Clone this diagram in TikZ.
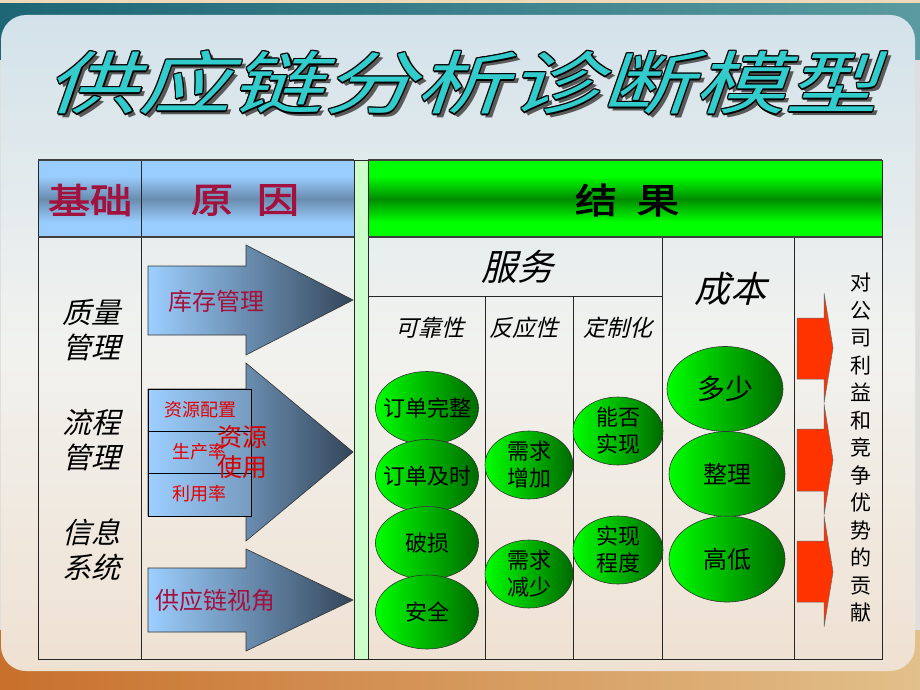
\documentclass[tikz,border=0pt]{standalone}
\usepackage{fontspec}
\newfontfamily\cjk{Noto Sans CJK SC}
\newfontfamily\cjkit[FakeSlant=0.25]{Noto Sans CJK SC}
\newfontfamily\cjkhead[FakeBold=2.5,FakeStretch=1.2]{Noto Sans CJK SC}
\newfontfamily\titlefont[FakeSlant=0.35,FakeStretch=1.36]{Noto Sans CJK SC}
\usetikzlibrary{shapes.geometric}

\definecolor{tealdark}{HTML}{1C6676}
\definecolor{teallight}{HTML}{5A9AA0}
\definecolor{orangedark}{HTML}{C8702C}
\definecolor{orangelight}{HTML}{E2C08A}
\definecolor{paneltop}{HTML}{D3E2EA}
\definecolor{panelmid}{HTML}{F1F2EF}
\definecolor{panelbottom}{HTML}{EFE1D2}
\definecolor{hdrblue}{HTML}{99CCFF}
\definecolor{hdrbluedark}{HTML}{6A8CAE}
\definecolor{hdrgreen}{HTML}{00FF00}
\definecolor{hdrgreendark}{HTML}{008C00}
\definecolor{stripgreen}{HTML}{CCFFCC}
\definecolor{arrowlight}{HTML}{9DCFFF}
\definecolor{arrowdark}{HTML}{33465A}
\definecolor{bubblelight}{HTML}{00FF00}
\definecolor{bubbledark}{HTML}{006A00}
\definecolor{chevronred}{HTML}{FF3300}
\definecolor{crimson}{HTML}{A3123F}
\definecolor{titleteal}{HTML}{33CCCC}

\tikzset{
  tableline/.style={draw=black!85, line width=1pt},
  headline/.style={draw=black!75, line width=1.8pt},
  bigarrow/.style={left color=arrowlight, right color=arrowdark, draw=black!80, line width=0.6pt},
  chevron/.style={fill=chevronred, draw=black!60, line width=0.5pt},
  bubble/.style={ellipse, draw=black!80, line width=0.6pt, left color=bubblelight,
    right color=bubbledark, inner xsep=-30pt, inner ysep=-20pt, align=center,
    font=\cjk\fontsize{22}{27}\selectfont},
  basetext/.style={align=center, font=\cjkit\fontsize{29}{35}\selectfont},
  subhead/.style={font=\cjkit\fontsize{23}{28}\selectfont},
  headtext/.style={font=\cjkhead\fontsize{35}{40}\selectfont},
  causetext/.style={text=crimson, font=\cjk\fontsize{24}{28}\selectfont},
  smallred/.style={text=red!90!black, font=\cjk\fontsize{18}{22}\selectfont},
  titletext/.style={font=\titlefont\fontsize{68}{72}\selectfont}
}

\begin{document}
\begin{tikzpicture}[x=1pt, y=-1pt]
    \useasboundingbox (0,0) rectangle (920,690);

    % Background: bars and panel
    \fill[panelmid!92!black] (0,0) rectangle (920,690);
    \shade[left color=tealdark, right color=teallight] (0,0) rectangle (920,60);
    \fill[orangelight!60!white] (0,0) rectangle (920,3);
    \shade[left color=orangedark, right color=orangelight] (0,630) rectangle (920,690);
    \shade[top color=paneltop, bottom color=panelbottom, middle color=panelmid,
      rounded corners=25] (1,15) rectangle (915,671);

    % Title with outline and shadow
    \node[titletext, text=black!65] (titleshadow) at (466,87) {供应链分析诊断模型};
    \foreach \dx/\dy [count=\i] in {-1.2/0,1.2/0,0/-1.2,0/1.2,-0.9/-0.9,0.9/-0.9,-0.9/0.9,0.9/0.9}
      \node[titletext, text=black] (titleedge\i) at (462+\dx,83+\dy) {供应链分析诊断模型};
    \node[titletext, text=titleteal] (title) at (462,83) {供应链分析诊断模型};

    % Header row
    \fill[hdrblue] (38,160) rectangle (354,237);
    \shade[top color=hdrblue, bottom color=hdrblue, middle color=hdrbluedark] (38,176) rectangle (354,222);
    \fill[hdrgreen] (368,160) rectangle (882,237);
    \shade[top color=hdrgreen, bottom color=hdrgreen, middle color=hdrgreendark] (368,176) rectangle (882,222);
    \fill[stripgreen] (354,160) rectangle (368,659);
    \node[headtext, text=crimson] (jichu) at (90,200) {基础};
    \node[headtext, text=crimson] (yuanyin) at (245,200) {原\hspace{24pt}因};
    \node[headtext, text=black] (jieguo) at (627,200) {结\hspace{20pt}果};

    % Table grid
    \draw[tableline] (38,160) rectangle (882,659);
    \draw[tableline] (141,160) -- (141,659);
    \draw[tableline] (354,160) -- (354,659);
    \draw[tableline] (368,160) -- (368,659);
    \draw[tableline] (662,237) -- (662,659);
    \draw[tableline] (794,237) -- (794,659);
    \draw[tableline] (368,296) -- (662,296);
    \draw[tableline] (485,296) -- (485,659);
    \draw[tableline] (573,296) -- (573,659);
    \draw[headline] (38,237) -- (354,237);
    \draw[headline] (368,237) -- (882,237);
    \draw[headline] (38,160) -- (354,160);
    \draw[headline] (368,160) -- (882,160);

    % Column 1: foundations
    \node[basetext] (zhiliang) at (91,330) {质量\\管理};
    \node[basetext] (liucheng) at (91,440) {流程\\管理};
    \node[basetext] (xinxi) at (91,550) {信息\\系统};

    % Column 2: causes
    \shade[bigarrow] (148,266) -- (246,266) -- (246,245) -- (353,300) -- (246,355) -- (246,335) -- (148,335) -- cycle;
    \node[causetext] (kucun) at (216,301) {库存管理};

    \shade[bigarrow] (148,389) -- (246,389) -- (246,363) -- (353,452) -- (246,541) -- (246,516) -- (148,516) -- cycle;
    \shade[left color=arrowlight, right color=arrowlight!75!black, draw=black] (148,389) rectangle (251,516);
    \draw[black] (148,431) -- (251,431);
    \draw[black] (148,473) -- (251,473);
    \node[smallred] (peizhi) at (200,410) {资源配置};
    \node[smallred] (shengchan) at (199,452) {生产率};
    \node[smallred] (liyong) at (199,494) {利用率};
    \node[causetext, text=red!85!black, align=center, font=\cjk\fontsize{25}{30}\selectfont]
      (ziyuan) at (242,452) {资源\\使用};

    \shade[bigarrow] (148,568) -- (246,568) -- (246,549) -- (353,600) -- (246,651) -- (246,632) -- (148,632) -- cycle;
    \node[causetext] (shiyejiao) at (215,600) {供应链视角};

    % Results: service
    \node[font=\cjkit\fontsize{36}{40}\selectfont] (fuwu) at (517,267) {服务};
    \node[subhead] (kekao) at (430,328) {可靠性};
    \node[subhead] (fanying) at (524,328) {反应性};
    \node[subhead] (dingzhi) at (618,328) {定制化};

    \node[bubble, minimum width=103, minimum height=73] (wanzheng) at (427,408) {订单完整};
    \node[bubble, minimum width=103, minimum height=73] (jishi) at (427,476) {订单及时};
    \node[bubble, minimum width=103, minimum height=73] (posun) at (427,543) {破损};
    \node[bubble, minimum width=103, minimum height=74] (anquan) at (427,612) {安全};

    \node[bubble, minimum width=88, minimum height=68] (zengjia) at (529,465) {需求\\增加};
    \node[bubble, minimum width=88, minimum height=68] (jianshao) at (529,574) {需求\\减少};

    \node[bubble, minimum width=90, minimum height=68] (nengfou) at (618,431) {能否\\实现};
    \node[bubble, minimum width=90, minimum height=68] (chengdu) at (618,550) {实现\\程度};

    % Results: cost
    \node[font=\cjkit\fontsize{36}{40}\selectfont] (chengben) at (730,289) {成本};
    \node[bubble, minimum width=116, minimum height=85, font=\cjk\fontsize{28}{32}\selectfont] (duoshao) at (725,389) {多少};
    \node[bubble, minimum width=116, minimum height=85, font=\cjk\fontsize{24}{28}\selectfont] (zhengli) at (727,474) {整理};
    \node[bubble, minimum width=116, minimum height=86, font=\cjk\fontsize{24}{28}\selectfont] (gaodi) at (727,559) {高低};

    % Contribution chevrons
    \draw[chevron] (797,318) -- (824,318) -- (824,293) -- (833,348) -- (824,403) -- (824,379) -- (797,379) -- cycle;
    \draw[chevron] (797,429) -- (824,429) -- (824,404) -- (833,460) -- (824,515) -- (824,491) -- (797,491) -- cycle;
    \draw[chevron] (797,541) -- (824,541) -- (824,516) -- (833,572) -- (824,627) -- (824,602) -- (797,602) -- cycle;
    \node[align=center, font=\cjk\fontsize{21}{27.5}\selectfont] (gongxian) at (861,448)
      {对\\公\\司\\利\\益\\和\\竞\\争\\优\\势\\的\\贡\\献};
\end{tikzpicture}
\end{document}
